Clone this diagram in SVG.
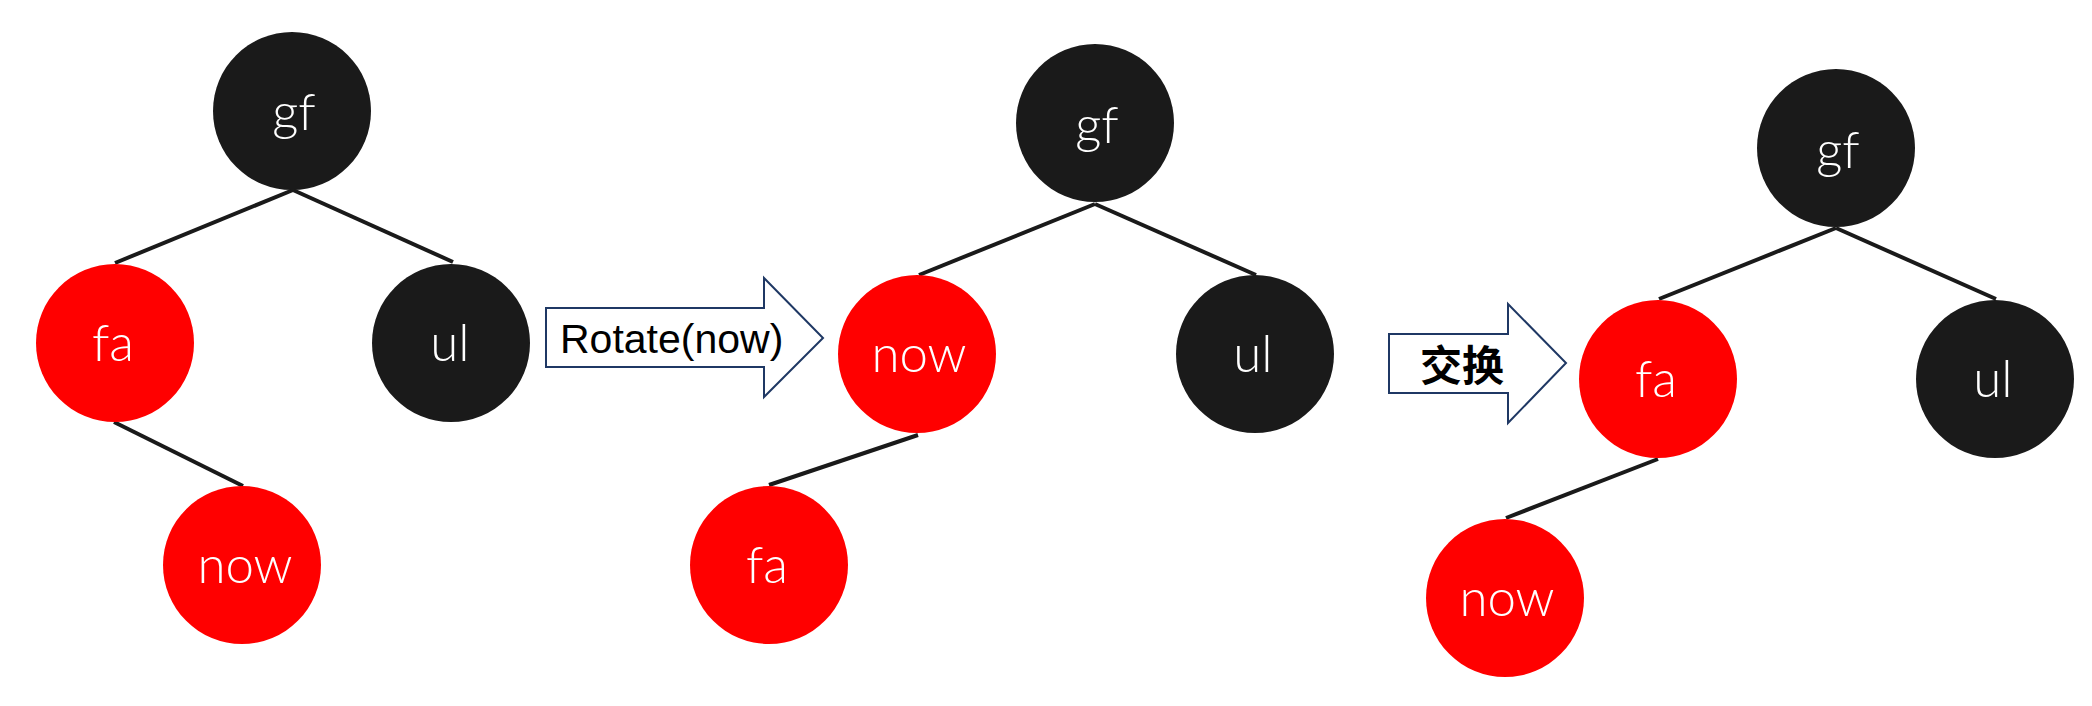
<svg xmlns="http://www.w3.org/2000/svg" width="2092" height="706" viewBox="0 0 2092 706">
<style>
.b{fill:#1a1a1a}
.r{fill:#ff0000}
.t{fill:#ffffff;font-family:Lato,"Liberation Sans",sans-serif;font-weight:300;font-size:51px;text-anchor:middle}
.e line{stroke:#1a1a1a;stroke-width:4}
.arr{fill:#ffffff;stroke:#1f3864;stroke-width:2}
.al{fill:#000000;font-family:"Liberation Sans","Noto Sans CJK SC",sans-serif}
</style>
<rect width="2092" height="706" fill="#ffffff"/>
<g id="connectors" class="e">
<line x1="293" y1="190" x2="115" y2="263"/>
<line x1="293" y1="190" x2="453" y2="262"/>
<line x1="114" y1="422" x2="243" y2="486"/>
<line x1="1095" y1="204" x2="919" y2="275"/>
<line x1="1095" y1="204" x2="1256" y2="275"/>
<line x1="918" y1="435" x2="769" y2="485"/>
<line x1="1836" y1="228" x2="1659" y2="299"/>
<line x1="1836" y1="228" x2="1996" y2="299"/>
<line x1="1658" y1="459" x2="1506" y2="518"/>
</g>
<g id="t1-gf"><circle class="b" cx="292" cy="111" r="79"/><text class="t" x="294" y="130">gf</text></g>
<g id="t1-fa"><circle class="r" cx="115" cy="343" r="79"/><text class="t" x="113" y="361">fa</text></g>
<g id="t1-ul"><circle class="b" cx="451" cy="343" r="79"/><text class="t" x="450" y="361">ul</text></g>
<g id="t1-now"><circle class="r" cx="242" cy="565" r="79"/><text class="t" x="245" y="583">now</text></g>
<g id="arrow-rotate">
<polygon class="arr" points="546,308 764,308 764,278 823,338 764,397 764,367 546,367"/>
<text class="al" x="560" y="353" font-size="41">Rotate(now)</text>
</g>
<g id="t2-gf"><circle class="b" cx="1095" cy="123" r="79"/><text class="t" x="1097" y="143">gf</text></g>
<g id="t2-now"><circle class="r" cx="917" cy="354" r="79"/><text class="t" x="919" y="372">now</text></g>
<g id="t2-ul"><circle class="b" cx="1255" cy="354" r="79"/><text class="t" x="1253" y="372">ul</text></g>
<g id="t2-fa"><circle class="r" cx="769" cy="565" r="79"/><text class="t" x="767" y="583">fa</text></g>
<g id="arrow-swap">
<polygon class="arr" points="1389,334 1508,334 1508,304 1566,363 1508,423 1508,393 1389,393"/>
<text class="al" x="1462" y="381" font-size="42" font-weight="bold" text-anchor="middle">交换</text>
</g>
<g id="t3-gf"><circle class="b" cx="1836" cy="148" r="79"/><text class="t" x="1838" y="168">gf</text></g>
<g id="t3-fa"><circle class="r" cx="1658" cy="379" r="79"/><text class="t" x="1656" y="397">fa</text></g>
<g id="t3-ul"><circle class="b" cx="1995" cy="379" r="79"/><text class="t" x="1993" y="397">ul</text></g>
<g id="t3-now"><circle class="r" cx="1505" cy="598" r="79"/><text class="t" x="1507" y="616">now</text></g>
</svg>
